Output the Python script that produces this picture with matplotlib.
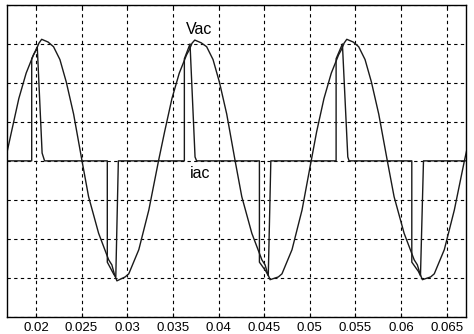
import matplotlib
matplotlib.use('Agg')
import matplotlib.pyplot as plt

plt.rcParams['font.family'] = ['Liberation Sans', 'DejaVu Sans']

# Vac waveform (time in s, amplitude in grid units)
vac_t = [0.01663, 0.01733, 0.01813, 0.01893, 0.01973, 0.02003, 0.02033, 0.02063, 0.02133, 0.02193, 0.02263, 0.02333, 0.02413,
         0.02505, 0.02577, 0.02687, 0.02797, 0.02832, 0.02861, 0.02887, 0.02977, 0.03017, 0.03127, 0.03237,
         0.03343, 0.03410, 0.03490, 0.03570, 0.03650, 0.03680, 0.03710, 0.03740, 0.03810, 0.03870, 0.03940, 0.04010, 0.04090,
         0.04182, 0.04255, 0.04365, 0.04475, 0.04510, 0.04539, 0.04565, 0.04655, 0.04695, 0.04805, 0.04915,
         0.05015, 0.05075, 0.05155, 0.05235, 0.05315, 0.05345, 0.05375, 0.05405, 0.05475, 0.05535, 0.05605, 0.05675, 0.05755,
         0.05849, 0.05923, 0.06033, 0.06143, 0.06178, 0.06207, 0.06233, 0.06323, 0.06363, 0.06473, 0.06583,
         0.06693, 0.06763]
vac_v = [0, 0.75, 1.6, 2.25, 2.72, 2.85, 3.02, 3.12, 3.05, 2.93, 2.6, 2.02, 1.2,
         0, -0.92, -1.86, -2.54, -2.67, -2.92, -3.08, -2.98, -2.9, -2.28, -1.26,
         0, 0.75, 1.6, 2.25, 2.72, 2.85, 3.02, 3.10, 3.03, 2.93, 2.6, 2.02, 1.2,
         0, -0.92, -1.86, -2.54, -2.67, -2.9, -3.05, -2.98, -2.9, -2.28, -1.26,
         0, 0.75, 1.6, 2.25, 2.72, 2.85, 3.02, 3.12, 3.05, 2.93, 2.6, 2.02, 1.2,
         0, -0.92, -1.86, -2.54, -2.67, -2.9, -3.05, -2.98, -2.9, -2.28, -1.26,
         0, 0.75]

# iac current pulses
iac_t = [0.0166,
         0.01954, 0.01954, 0.02015, 0.02068, 0.02095,
         0.02782, 0.02782, 0.02855, 0.02875, 0.02903,
         0.03626, 0.03626, 0.03688, 0.03743, 0.03760,
         0.04448, 0.04448, 0.04521, 0.04545, 0.04573,
         0.05288, 0.05288, 0.05357, 0.05416, 0.05430,
         0.06117, 0.06117, 0.06190, 0.06212, 0.06245,
         0.0675]
iac_v = [0,
         0, 2.62, 2.92, 0.2, 0,
         0, -2.6, -2.92, -2.98, 0,
         0, 2.62, 3.0, 0.1, 0,
         0, -2.6, -2.84, -2.95, 0,
         0, 2.62, 3.0, 0.1, 0,
         0, -2.6, -2.84, -2.95, 0,
         0]

xticks = [0.02, 0.025, 0.03, 0.035, 0.04, 0.045, 0.05, 0.055, 0.06, 0.065]
xlabels = ['0.02', '0.025', '0.03', '0.035', '0.04', '0.045', '0.05', '0.055', '0.06', '0.065']
yticks = [-4, -3, -2, -1, 0, 1, 2, 3, 4]

fig = plt.figure(figsize=(4.74, 3.34), dpi=100)
ax = fig.add_axes([0.0141, 0.0518, 0.9689, 0.9332])

ax.plot(vac_t, vac_v, color='#1a1a1a', lw=1.0)
ax.plot(iac_t, iac_v, color='#1a1a1a', lw=1.0)

ax.text(0.03787, 3.37, 'Vac', ha='center', va='center', fontsize=11.5)
ax.text(0.03794, -0.33, 'iac', ha='center', va='center', fontsize=11.5)

ax.set_xlim(0.0168, 0.0671)
ax.set_ylim(-4, 4)
ax.set_xticks(xticks)
ax.set_xticklabels(xlabels, fontsize=9.5)
ax.set_yticks(yticks)
ax.set_yticklabels([])
ax.tick_params(direction='in', length=3, top=True, right=True, pad=3.5, width=0.8)
ax.tick_params(axis='y', length=0)
ax.grid(True, color='black', linestyle=(0, (3, 3)), linewidth=0.8)
for s in ax.spines.values():
    s.set_linewidth(1.0)

plt.savefig('out.png', dpi=100)
